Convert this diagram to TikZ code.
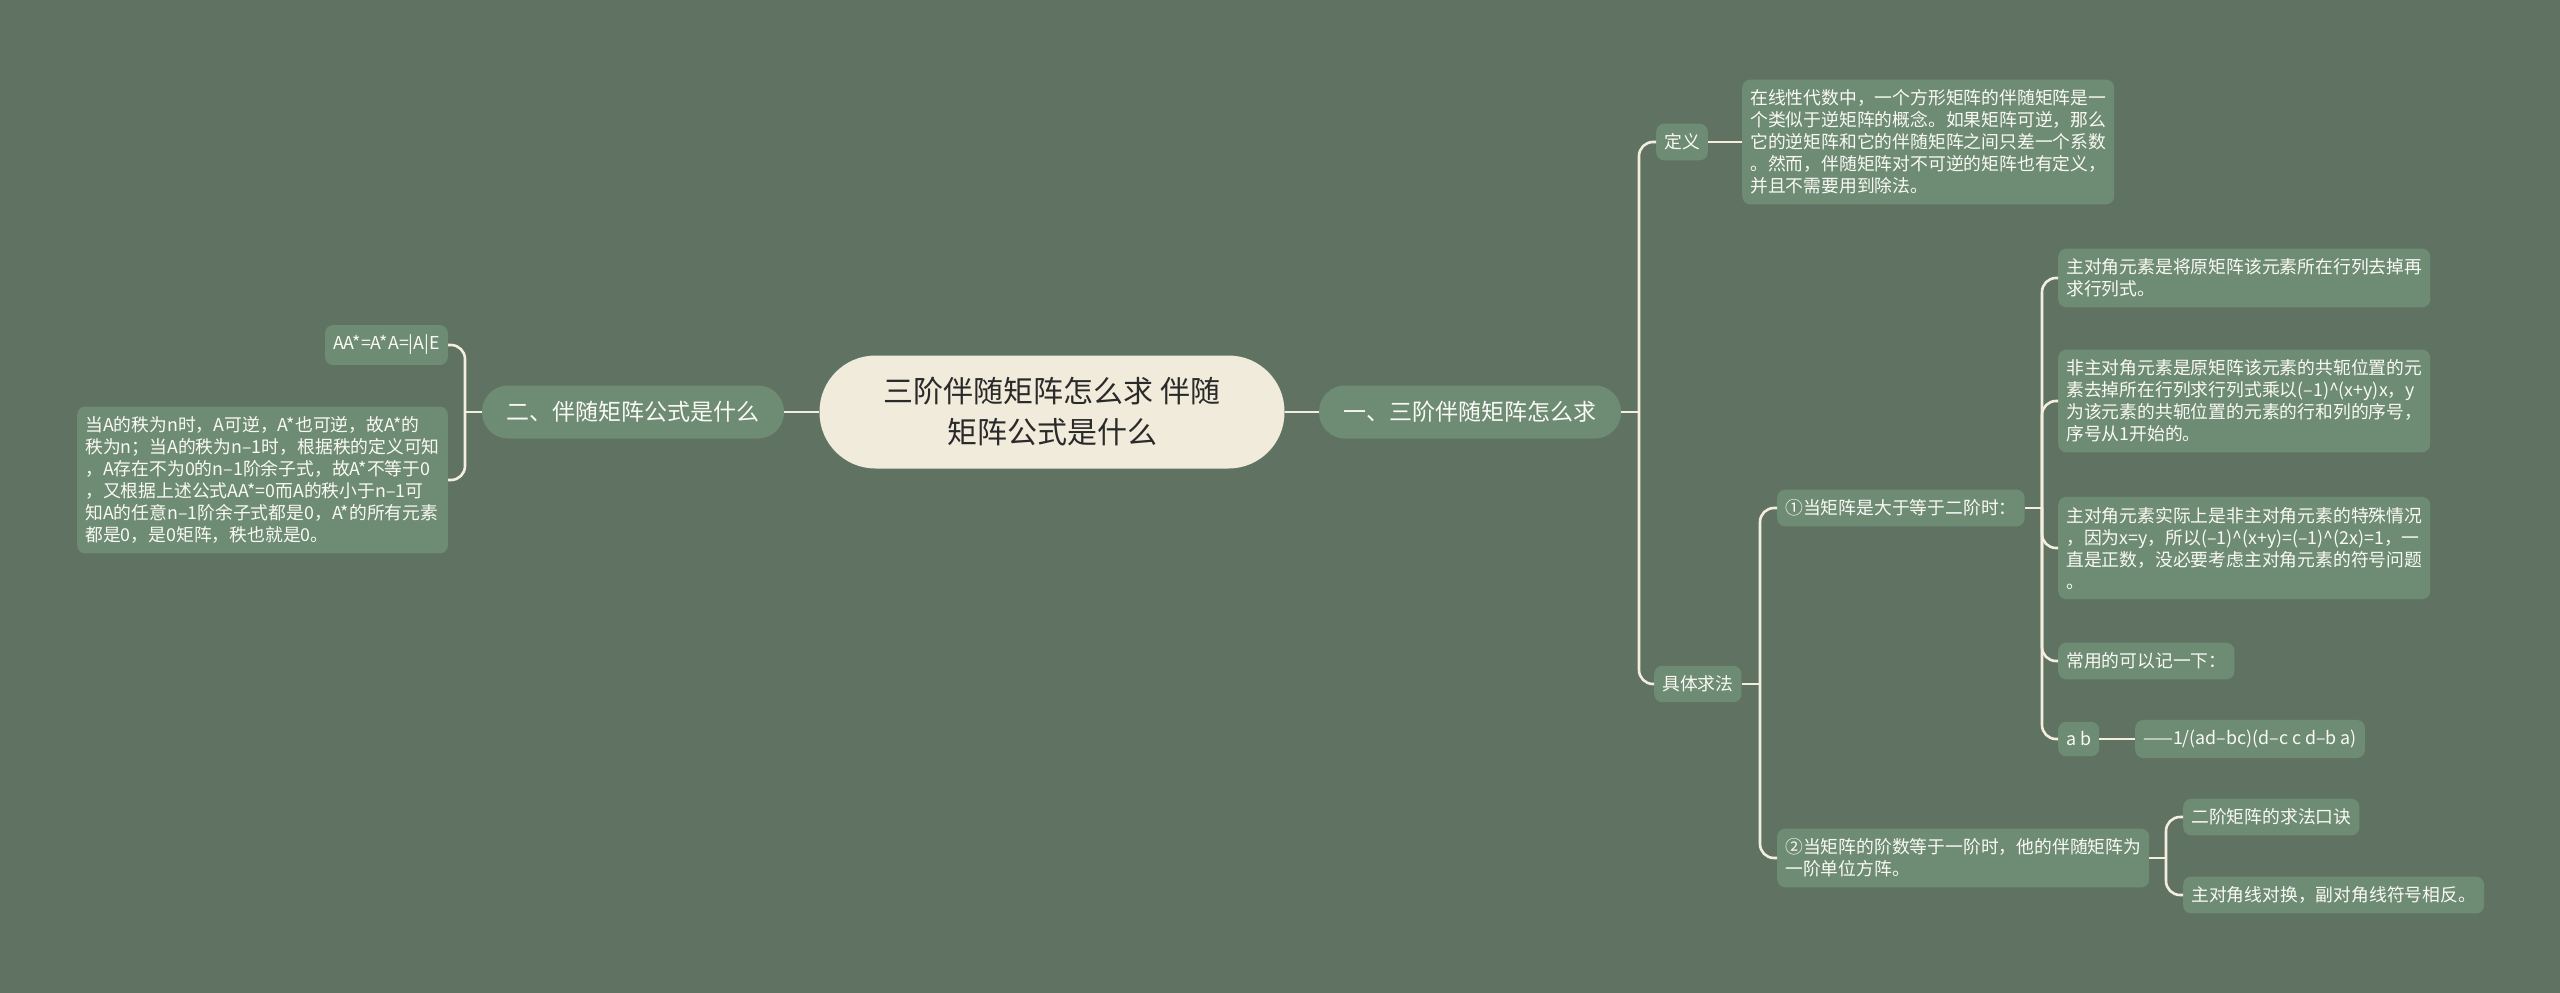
\documentclass[tikz,border=0pt]{standalone}
\usepackage{fontspec}
\setmainfont{Noto Sans CJK SC}
\definecolor{bg}{HTML}{607363}
\definecolor{boxfill}{HTML}{6E8B74}
\definecolor{linecol}{HTML}{F3EEDD}
\definecolor{centerfill}{HTML}{F0EBDB}
\definecolor{centertext}{HTML}{2A2A2A}
\definecolor{boxtext}{HTML}{FAFAF4}
\begin{document}
\begin{tikzpicture}[x=1pt,y=-1pt,
  leaf/.style={fill=boxfill, rounded corners=8pt, text=boxtext, font=\fontsize{17.8}{22}\selectfont, align=left, inner xsep=8pt, inner ysep=10pt},
  lvlone/.style={fill=boxfill, rounded corners=26pt, text=boxtext, font=\fontsize{23}{28}\selectfont, minimum height=53pt, minimum width=302pt, inner sep=0pt},
  root/.style={fill=centerfill, rounded corners=56pt, text=centertext, font=\fontsize{30}{41}\selectfont, align=center, minimum width=465pt, minimum height=113pt},
  conn/.style={draw=linecol, line width=2.6pt},
  elbow/.style={conn, rounded corners=14pt}
]
\fill[bg] (0,0) rectangle (2560,993);
\useasboundingbox (0,0) rectangle (2560,993);

\node[root] (root) at (1052,412) {三阶伴随矩阵怎么求 伴随\\矩阵公式是什么};
\node[lvlone] (r1) at (1470,412) {一、三阶伴随矩阵怎么求};
\node[lvlone] (l1) at (633,412) {二、伴随矩阵公式是什么};

\node[leaf, anchor=west] (def) at (1656,142) {定义};
\node[leaf, anchor=west] (deftext) at (1742,142) {在线性代数中，一个方形矩阵的伴随矩阵是一\\个类似于逆矩阵的概念。如果矩阵可逆，那么\\它的逆矩阵和它的伴随矩阵之间只差一个系数\\。然而，伴随矩阵对不可逆的矩阵也有定义，\\并且不需要用到除法。};
\node[leaf, anchor=west] (method) at (1654,684) {具体求法};
\node[leaf, anchor=west] (c1) at (1777,508) {①当矩阵是大于等于二阶时：};
\node[leaf, anchor=west] (c2) at (1777,858) {②当矩阵的阶数等于一阶时，他的伴随矩阵为\\一阶单位方阵。};
\node[leaf, anchor=west] (a1) at (2058,278) {主对角元素是将原矩阵该元素所在行列去掉再\\求行列式。};
\node[leaf, anchor=west] (a2) at (2058,401) {非主对角元素是原矩阵该元素的共轭位置的元\\素去掉所在行列求行列式乘以(–1)\textasciicircum(x+y)x，y\\为该元素的共轭位置的元素的行和列的序号，\\序号从1开始的。};
\node[leaf, anchor=west] (a3) at (2058,548) {主对角元素实际上是非主对角元素的特殊情况\\，因为x=y，所以(–1)\textasciicircum(x+y)=(–1)\textasciicircum(2x)=1，一\\直是正数，没必要考虑主对角元素的符号问题\\。};
\node[leaf, anchor=west] (a4) at (2058,661) {常用的可以记一下：};
\node[leaf, anchor=west] (a5) at (2058,739) {a b};
\node[leaf, anchor=west] (a6) at (2135,739) {——1/(ad–bc)(d–c c d–b a)};
\node[leaf, anchor=west] (b1) at (2183,817) {二阶矩阵的求法口诀};
\node[leaf, anchor=west] (b2) at (2183,895) {主对角线对换，副对角线符号相反。};
\node[leaf, anchor=east] (f1) at (448,345) {AA*=A*A=|A|E};
\node[leaf, anchor=east] (f2) at (448,480) {当A的秩为n时，A可逆，A*也可逆，故A*的\\秩为n；当A的秩为n–1时，根据秩的定义可知\\，A存在不为0的n–1阶余子式，故A*不等于0\\，又根据上述公式AA*=0而A的秩小于n–1可\\知A的任意n–1阶余子式都是0，A*的所有元素\\都是0，是0矩阵，秩也就是0。};

\coordinate (t1) at (1639,412);
\coordinate (t2) at (1760,684);
\coordinate (t3) at (2042,508);
\coordinate (t4) at (2166,858);
\coordinate (t5) at (465,412);

\draw[conn] (root.east) -- (r1.west);
\draw[conn] (root.west) -- (l1.east);

\draw[conn] (r1.east) -- (t1);
\draw[elbow] (t1) |- (def.west);
\draw[elbow] (t1) |- (method.west);
\draw[conn] (def.east) -- (deftext.west);

\draw[conn] (method.east) -- (t2);
\draw[elbow] (t2) |- (c1.west);
\draw[elbow] (t2) |- (c2.west);

\draw[conn] (c1.east) -- (t3);
\draw[elbow] (t3) |- (a1.west);
\draw[elbow] (t3) |- (a2.west);
\draw[elbow] (t3) |- (a3.west);
\draw[elbow] (t3) |- (a4.west);
\draw[elbow] (t3) |- (a5.west);
\draw[conn] (a5.east) -- (a6.west);

\draw[conn] (c2.east) -- (t4);
\draw[elbow] (t4) |- (b1.west);
\draw[elbow] (t4) |- (b2.west);

\draw[conn] (l1.west) -- (t5);
\draw[elbow] (t5) |- (f1.east);
\draw[elbow] (t5) |- (f2.east);
\end{tikzpicture}
\end{document}
